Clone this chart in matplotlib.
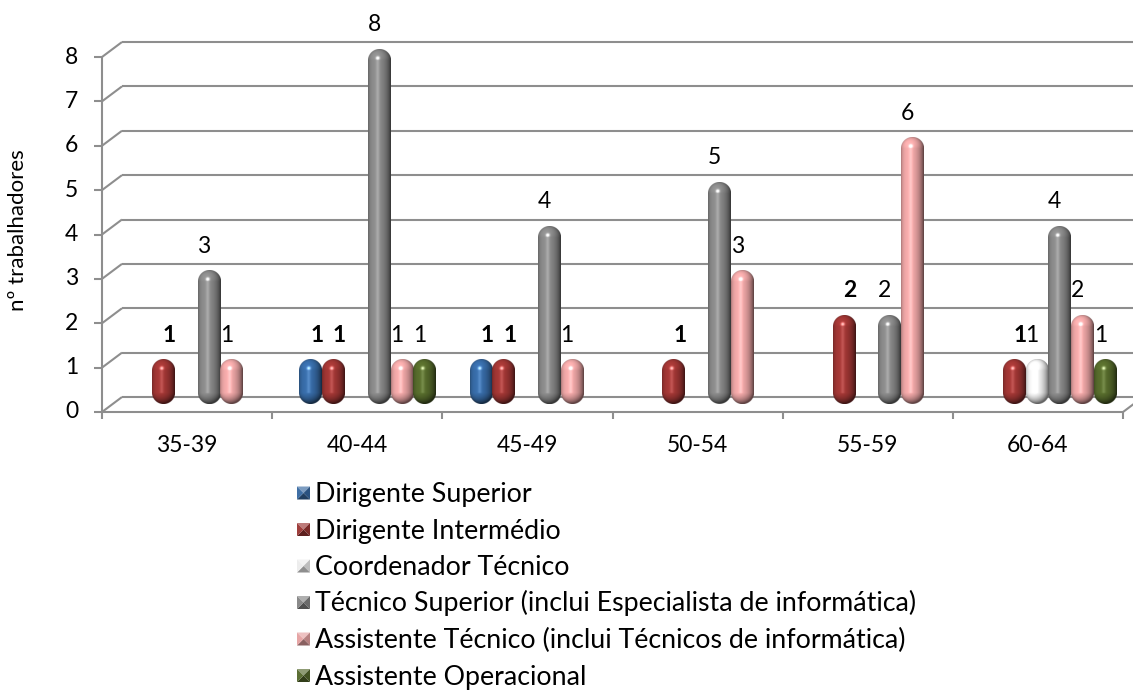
import numpy as np
import matplotlib
matplotlib.use("Agg")
import matplotlib.pyplot as plt
from matplotlib.patches import Polygon
from matplotlib.colors import to_rgb

plt.rcParams["font.family"] = ["Lato", "DejaVu Sans"]

# ---- data -------------------------------------------------------------
age_groups = ["35-39", "40-44", "45-49", "50-54", "55-59", "60-64"]
series_names = [
    "Dirigente Superior",
    "Dirigente Intermédio",
    "Coordenador Técnico",
    "Técnico Superior (inclui Especialista de informática)",
    "Assistente Técnico (inclui Técnicos de informática)",
    "Assistente Operacional",
]
dirigente_superior = [0, 1, 1, 0, 0, 0]
dirigente_intermedio = [1, 1, 1, 1, 2, 1]
coordenador_tecnico = [0, 0, 0, 0, 0, 1]
tecnico_superior = [3, 8, 4, 5, 2, 4]
assistente_tecnico = [1, 1, 1, 3, 6, 2]
assistente_operacional = [0, 1, 0, 0, 0, 1]
y_ticks = [0, 1, 2, 3, 4, 5, 6, 7, 8]
y_label = "nº trabalhadores"

series_values = [dirigente_superior, dirigente_intermedio, coordenador_tecnico,
                 tecnico_superior, assistente_tecnico, assistente_operacional]
series_colors = ["#3567a0", "#9a3432", "#ececec", "#848484", "#e5a0a0", "#53672a"]
bold_labels = [True, True, False, False, False, False]

# ---- geometry (pixels) -----------------------------------------------
W, H = 1133, 695
X0, Y0 = 102.0, 412.0          # pixel of category edge -0.5 / value 0 on front plane
CAT_PX, UNIT_PX = 170.17, 44.375
WALL_DX, WALL_DY = 20.0, 15.0  # depth offset of the back wall
BAR_W_PX = 22.8

fig = plt.figure(figsize=(W / 100, H / 100), dpi=100)
ax = fig.add_axes([0, 0, 1, 1])
ax.axis("off")


def dx(p):
    return p / CAT_PX


def dy(p):
    return p / UNIT_PX


def pix(px, row):
    return -0.5 + (px - X0) / CAT_PX, (Y0 - row) / UNIT_PX


grid_kw = dict(color="#8e8e8e", lw=1.5, solid_capstyle="butt", zorder=1)
n_cat = len(age_groups)
x_left, x_right = -0.5, n_cat - 0.5
DX, DY = dx(WALL_DX), dy(WALL_DY)

# back wall gridlines + left-wall diagonals
for v in y_ticks:
    ax.plot([x_left, x_left + DX], [v, v + DY], **grid_kw)
    ax.plot([x_left + DX, x_right + DX], [v + DY, v + DY], **grid_kw)
# front axis, floor edge and right floor diagonal
ax.plot([x_left, x_left], [0, max(y_ticks)], **grid_kw)
ax.plot([x_left, x_right], [0, 0], **grid_kw)
ax.plot([x_right, x_right + DX], [0, DY], **grid_kw)
# tick marks and tick labels
for v in y_ticks:
    ax.plot([x_left - dx(8), x_left], [v, v], **grid_kw)
    ax.text(x_left - dx(24), v, str(v), ha="right", va="center", fontsize=16.5)
for k in range(n_cat + 1):
    ax.plot([x_left + k, x_left + k], [0, -dy(7)], **grid_kw)
for k, name in enumerate(age_groups):
    ax.text(k, -dy(34), name, ha="center", va="center", fontsize=16.5)

ax.text(*pix(18, 230), y_label, rotation=90, ha="center", va="center", fontsize=16)

# ---- shaded capsule bars ----------------------------------------------
L = np.array([-0.35, 0.45, 1.0]); L /= np.linalg.norm(L)
Hv = L + np.array([0, 0, 1.0]); Hv /= np.linalg.norm(Hv)


def capsule_rgba(color, h_px, w_px, ss=3):
    r = w_px / 2
    nw, nh = int(round(w_px * ss)), int(round(h_px * ss))
    xs = (np.arange(nw) + 0.5) / ss
    ys = (np.arange(nh) + 0.5) / ss
    X, Y = np.meshgrid(xs, ys)
    cx = w_px / 2
    top_c, bot_c = r, max(r, h_px - r)
    Yc = np.clip(Y, top_c, bot_c)
    ddx, ddy = X - cx, Y - Yc
    d = np.hypot(ddx, ddy)
    alpha = np.clip((r - d) * ss + 0.5, 0, 1)
    nx = np.clip(ddx / r, -1, 1)
    ny = np.clip(-ddy / r, -1, 1)
    nz = np.sqrt(np.clip(1 - nx ** 2 - ny ** 2, 0, 1))
    diff = np.clip(nx * L[0] + ny * L[1] + nz * L[2], 0, 1)
    spec = np.clip(nx * Hv[0] + ny * Hv[1] + nz * Hv[2], 0, 1) ** 80
    base = np.array(to_rgb(color))
    rgb = base[None, None, :] * (0.42 + 0.72 * diff)[..., None] + 0.6 * spec[..., None]
    rgb = np.clip(rgb, 0, 1)
    return np.dstack([rgb, alpha])


n_ser = len(series_values)
bw = dx(BAR_W_PX)
bar_dx, bar_dy = dx(10.5), dy(7.5)
for j in range(n_cat):
    for i in range(n_ser):
        v = series_values[i][j]
        if v <= 0:
            continue
        cx = j + bar_dx + (i - (n_ser - 1) / 2) * bw
        img = capsule_rgba(series_colors[i], v * UNIT_PX, BAR_W_PX)
        ax.imshow(img, extent=[cx - bw / 2, cx + bw / 2, bar_dy, bar_dy + v],
                  aspect="auto", interpolation="antialiased", zorder=3 + j)
        shift = 6 if bold_labels[i] else -5
        ax.text(cx + dx(shift), bar_dy + v + dy(25), str(v), ha="center", va="center",
                fontsize=16.5, fontweight="bold" if bold_labels[i] else "normal",
                zorder=20)

# ---- legend ------------------------------------------------------------
def shade(c, f):
    c = np.array(to_rgb(c))
    if f >= 1:
        return tuple(c + (1 - c) * (f - 1))
    return tuple(c * f)


leg_x, leg_base0, leg_step, mk = 315, 502, 36.5, 13
for i, name in enumerate(series_names):
    base_row = leg_base0 + i * leg_step
    cy = base_row - 9
    x0, x1 = leg_x - 18, leg_x - 18 + mk
    y0, y1 = cy - mk / 2, cy + mk / 2
    xc = (x0 + x1) / 2
    corners = {"tl": (x0, y0), "tr": (x1, y0), "br": (x1, y1), "bl": (x0, y1), "c": (xc, cy)}
    faces = [("tl", "tr", 1.35), ("tr", "br", 0.8), ("br", "bl", 0.6), ("bl", "tl", 1.05)]
    for a, b, f in faces:
        pts = [pix(*corners[a]), pix(*corners[b]), pix(*corners["c"])]
        ax.add_patch(Polygon(pts, closed=True, facecolor=shade(series_colors[i], f),
                             edgecolor="none", zorder=5))
    ax.text(*pix(leg_x, base_row), name, ha="left", va="baseline", fontsize=19.3)

ax.set_xlim(-0.5 - X0 / CAT_PX, -0.5 + (W - X0) / CAT_PX)
ax.set_ylim(-(H - Y0) / UNIT_PX, Y0 / UNIT_PX)

fig.savefig("out.png", dpi=100)
